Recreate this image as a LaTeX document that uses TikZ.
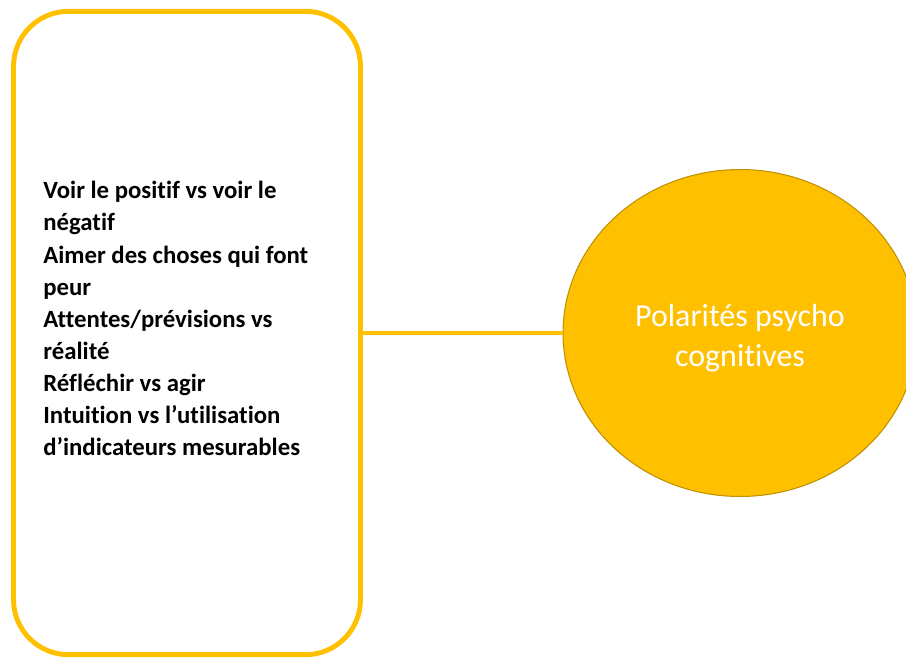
\documentclass[tikz,border=0pt]{standalone}
\usepackage{fontspec}
\setmainfont{Carlito}[RawFeature=-liga]
\usepackage{tikz}
\usetikzlibrary{shapes.geometric}
\definecolor{gold}{HTML}{FFC000}
\definecolor{darkgold}{HTML}{BF9000}
\tikzstyle{listbox} = [rectangle, rounded corners=1.1cm, minimum width=6.94cm, minimum height=12.87cm, draw=gold, line width=2.8pt, fill=white]
\tikzstyle{listtext} = [anchor=north west, inner sep=0pt, align=left, font=\bfseries\fontsize{14.1}{18.3}\selectfont, text=black]
\tikzstyle{topic} = [ellipse, minimum width=7.08cm, minimum height=6.54cm, draw=darkgold, line width=0.6pt, fill=gold]
\tikzstyle{topiclabel} = [name=polartext, text=white, align=center, yshift=-0.1cm, font=\fontsize{18.2}{22.6}\selectfont]
\tikzstyle{link} = [draw=gold, line width=2.8pt]

\begin{document}
\begin{tikzpicture}[x=0.02cm, y=-0.02cm]
\useasboundingbox (0,0) rectangle (906,657);
\node (box) [listbox] at (187,333) {};
\node (list) [listtext] at (43,181) {Voir le positif vs voir le\\n\'egatif\\Aimer des choses qui font\\peur\\Attentes/pr\'evisions vs\\r\'ealit\'e\\R\'efl\'echir vs agir\\Intuition vs l’utilisation\\d’indicateurs mesurables};
\node (polar) [topic, label={[topiclabel]center:Polarit\'es psycho\\cognitives}] at (740,333) {};
\draw [link] (box.east) -- (polar.west);
\end{tikzpicture}
\end{document}
